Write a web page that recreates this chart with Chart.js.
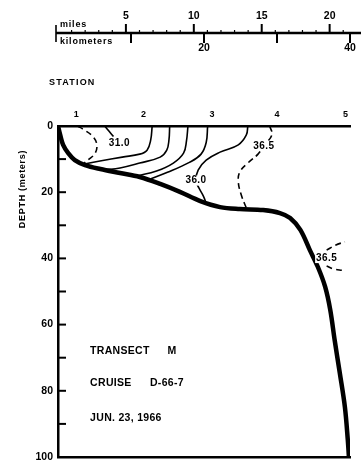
<!DOCTYPE html>
<html lang="en">
  <head>
    <meta charset="UTF-8" />
    <title>Transect M</title>
    <script src="https://cdn.jsdelivr.net/npm/chart.js@4.4.0/dist/chart.umd.min.js"></script>
    <style>
      body { margin: 0; background: #fff; }
      canvas { display: block; }
    </style>
  </head>
  <body>
    <canvas id="transect" width="361" height="463"></canvas>

    <script>
      // stations along the transect, distance in km
      var stationNames = ["1", "2", "3", "4", "5"];
      var stationKm = [2.5, 11.7, 21.1, 30.0, 39.4];

      // depth axis (meters)
      var depthTicks = [0, 10, 20, 30, 40, 50, 60, 70, 80, 90, 100];

      // distance scale bar
      var mileTicks = [5, 10, 15, 20];
      var mileMinor = [1, 2, 3, 4, 6, 7, 8, 9, 11, 12, 13, 14, 16, 17, 18, 19, 21];
      var kmTicks = [10, 20, 30, 40];
      var kmLabelled = [20, 40];

      // bottom profile
      var bottomKm = [0, 0.3, 0.7, 1.4, 2.3, 3.7, 5.8, 8.5, 11.2, 14.0, 16.7, 19.5, 22.2, 24.9,
        28.1, 30.4, 31.8, 33.2, 34.5, 35.6, 36.6, 37.3, 37.9, 38.6, 39.3, 39.7, 39.85];
      var bottomDepth = [0, 2.7, 5.7, 8.2, 10.3, 11.8, 13.0, 14.2, 15.4, 17.5, 19.9, 22.7, 24.5, 25.1,
        25.4, 26.3, 27.8, 31.4, 37.5, 42.6, 48.6, 55.6, 64.7, 74.6, 84.9, 94.9, 100];

      // salinity isolines, [km, depth] pairs
      var iso31dash = [[2.7, 0], [3.6, 1.2], [4.7, 3.0], [5.3, 5.4], [5.1, 8.2], [4.1, 10.3], [3.6, 11.2]];
      var iso31 = [[6.4, 0], [7.0, 1.6], [7.6, 3.2]];
      var isoB = [[12.9, 0], [12.7, 4.2], [12.2, 7.3], [11.2, 8.5], [8.8, 9.4], [5.75, 10.6], [3.6, 11.5]];
      var isoC = [[15.3, 0], [15.2, 4.2], [14.9, 7.3], [14.0, 9.4], [11.2, 11.2], [8.5, 12.7], [6.4, 13.3]];
      var isoD = [[17.8, 0], [17.6, 4.5], [17.2, 8.2], [15.8, 11.2], [13.5, 13.6], [10.8, 15.1]];
      var isoE = [[20.5, 0], [20.3, 5.0], [19.6, 8.5], [18.0, 11.0], [15.0, 14.0], [12.4, 16.2]];
      var iso36 = [[26.0, 0], [25.8, 2.7], [24.7, 5.7], [22.2, 7.9], [20.3, 10.3], [19.2, 13.3],
        [18.9, 16.5], [19.3, 18.7], [19.9, 21.1], [20.3, 23.3]];
      var iso365 = [[29.0, 0], [29.3, 2.7], [28.2, 6.0], [27.4, 8.5], [26.0, 11.2], [24.9, 13.9],
        [24.7, 16.9], [25.1, 20.8], [25.8, 24.8]];
      var iso365up = [[36.8, 37.5], [38.0, 36.0], [39.3, 35.0]];
      var iso365low = [[36.8, 42.3], [37.8, 43.2], [39.0, 43.6]];

      // isoline labels
      var labelText = ["31.0", "36.0", "36.5", "36.5"];
      var labelKm = [8.4, 18.9, 28.2, 36.8];
      var labelDepth = [5.1, 16.5, 6.0, 39.9];

      var FONT = "'Liberation Sans', Arial, sans-serif";

      function pts(pairs) {
        return pairs.map(function (p) { return { x: p[0], y: p[1] }; });
      }

      function iso(pairs, dashed) {
        return {
          data: pts(pairs),
          showLine: true,
          borderColor: "#000",
          borderWidth: 1.6,
          borderDash: dashed ? [6, 4] : [],
          tension: 0.4,
        };
      }

      var datasets = [
        {
          data: bottomKm.map(function (k, i) { return { x: k, y: bottomDepth[i] }; }),
          showLine: true,
          borderColor: "#000",
          borderWidth: 4.5,
          tension: 0.35,
        },
        iso(iso31dash, true),
        iso(iso31, false),
        iso(isoB, false),
        iso(isoC, false),
        iso(isoD, false),
        iso(isoE, false),
        iso(iso36, false),
        iso(iso365, true),
        iso(iso365up, true),
        iso(iso365low, true),
      ];

      function line(ctx, x1, y1, x2, y2) {
        ctx.beginPath();
        ctx.moveTo(x1, y1);
        ctx.lineTo(x2, y2);
        ctx.stroke();
      }

      // ticks, labels, scale bar and cruise notes
      var annotate = {
        id: "annotate",
        afterDraw: function (chart) {
          var ctx = chart.ctx;
          var x = chart.scales.x, y = chart.scales.y, mi = chart.scales.mi;
          ctx.save();
          ctx.fillStyle = "#000";
          ctx.strokeStyle = "#000";

          // depth ticks pointing into the section
          ctx.lineWidth = 2;
          depthTicks.forEach(function (d) {
            if (d === 0 || d === 100) return;
            var py = y.getPixelForValue(d);
            line(ctx, x.left, py, x.left + 8, py);
          });

          // isoline labels
          ctx.font = "bold 10px " + FONT;
          ctx.letterSpacing = "0.4px";
          ctx.textAlign = "center";
          ctx.textBaseline = "middle";
          labelText.forEach(function (t, i) {
            var px = x.getPixelForValue(labelKm[i]);
            var py = y.getPixelForValue(labelDepth[i]);
            var w = ctx.measureText(t).width;
            ctx.fillStyle = "#fff";
            ctx.fillRect(px - w / 2 - 1, py - 5, w + 2, 10);
            ctx.fillStyle = "#000";
            ctx.fillText(t, px, py);
          });

          // distance scale bar
          var barY = 33;
          var x0 = mi.getPixelForValue(0);
          ctx.lineWidth = 2.6;
          line(ctx, x0 - 2, barY, chart.width, barY);
          ctx.lineWidth = 1.6;
          line(ctx, x0 - 2, 25, x0 - 2, 42);
          ctx.lineWidth = 1.2;
          mileMinor.forEach(function (m) {
            var px = mi.getPixelForValue(m);
            line(ctx, px, barY, px, barY - 3);
          });
          ctx.lineWidth = 2;
          ctx.font = "bold 10.5px " + FONT;
          ctx.letterSpacing = "0px";
          mileTicks.forEach(function (m) {
            var px = mi.getPixelForValue(m);
            line(ctx, px, barY, px, barY - 9);
            ctx.fillText(String(m), px, barY - 17);
          });
          kmTicks.forEach(function (k) {
            var px = x.getPixelForValue(k);
            line(ctx, px, barY, px, barY + 10);
            if (kmLabelled.indexOf(k) >= 0) ctx.fillText(String(k), px, barY + 15);
          });

          ctx.textAlign = "left";
          ctx.font = "bold 9px " + FONT;
          ctx.letterSpacing = "0.8px";
          ctx.fillText("miles", x0 + 2, 25);
          ctx.fillText("kilometers", x0 + 2, 42);

          ctx.letterSpacing = "1.2px";
          ctx.fillText("STATION", 49, 83);

          // axis title
          ctx.save();
          ctx.translate(23, 189);
          ctx.rotate(-Math.PI / 2);
          ctx.textAlign = "center";
          ctx.letterSpacing = "0.7px";
          ctx.fillText("DEPTH (meters)", 0, 0);
          ctx.restore();

          // cruise notes
          ctx.font = "bold 10.5px " + FONT;
          ctx.letterSpacing = "0.3px";
          ctx.textAlign = "left";
          var left = x.getPixelForValue(4.4);
          ctx.fillText("TRANSECT", left, y.getPixelForValue(68));
          ctx.fillText("M", x.getPixelForValue(15.0), y.getPixelForValue(68));
          ctx.fillText("CRUISE", left, y.getPixelForValue(77.7));
          ctx.fillText("D-66-7", x.getPixelForValue(12.6), y.getPixelForValue(77.7));
          ctx.fillText("JUN. 23, 1966", left, y.getPixelForValue(88.2));

          ctx.restore();
        },
      };

      var chart = new Chart(document.getElementById("transect"), {
        type: "scatter",
        data: { datasets: datasets },
        options: {
          responsive: false,
          animation: false,
          layout: { padding: { top: 100, right: 11, bottom: 6, left: 0 } },
          plugins: { legend: { display: false }, tooltip: { enabled: false } },
          elements: { point: { radius: 0 } },
          scales: {
            x: {
              type: "linear",
              position: "top",
              min: 0,
              max: 40,
              afterBuildTicks: function (s) {
                s.ticks = stationKm.map(function (v) { return { value: v }; });
              },
              afterFit: function (s) { s.height = 26; },
              ticks: {
                callback: function (v, i) { return stationNames[i]; },
                font: { family: FONT, size: 9, weight: "bold" },
                color: "#000",
                padding: 6,
                maxRotation: 0,
                autoSkip: false,
              },
              grid: { drawOnChartArea: false, drawTicks: false },
              border: { color: "#000", width: 2.5 },
            },
            xb: {
              type: "linear",
              position: "bottom",
              min: 0,
              max: 40,
              afterFit: function (s) { s.height = 0; },
              ticks: { display: false },
              grid: { drawOnChartArea: false, drawTicks: false },
              border: { color: "#000", width: 2.5 },
            },
            mi: {
              type: "linear",
              position: "top",
              min: 0,
              max: 21.5,
              display: false,
            },
            y: {
              type: "linear",
              position: "left",
              reverse: true,
              min: 0,
              max: 100,
              afterBuildTicks: function (s) {
                s.ticks = depthTicks.map(function (v) { return { value: v }; });
              },
              afterFit: function (s) {
                // fixed gutter; the end labels may hang over the frame
                s.width = 58;
                s.paddingTop = 0;
                s.paddingBottom = 0;
              },
              ticks: {
                callback: function (v) { return v % 20 === 0 ? v : ""; },
                font: { family: FONT, size: 10.5, weight: "bold" },
                color: "#000",
                padding: 5,
              },
              grid: { drawOnChartArea: false, drawTicks: false },
              border: { color: "#000", width: 2.5 },
            },
          },
        },
        plugins: [annotate],
      });
    </script>
  </body>
</html>
